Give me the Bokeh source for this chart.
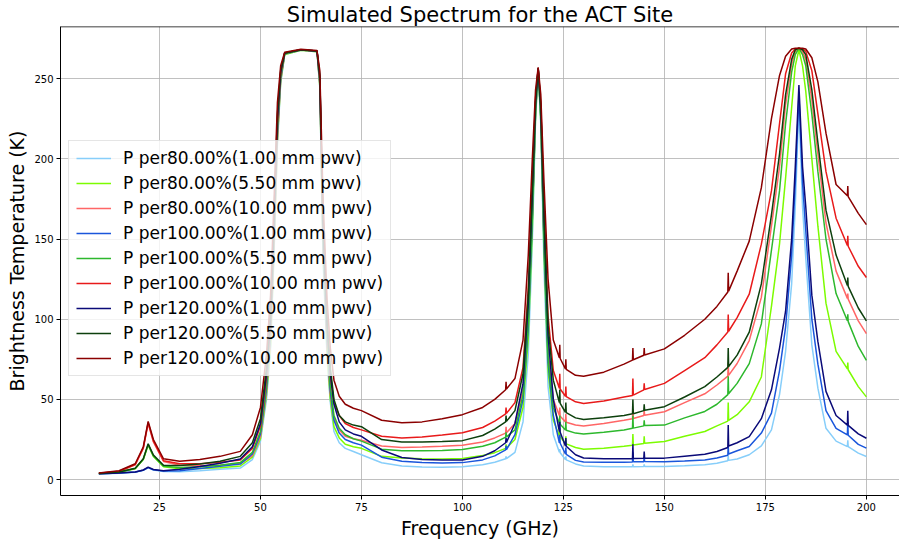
from bokeh.plotting import figure
from bokeh.models import Range1d, Legend, LegendItem, FixedTicker, Span
from bokeh.embed import file_html
from bokeh.resources import INLINE

freq = [10, 15, 19, 21, 22.2, 23.5, 26, 30, 35, 40, 45, 48, 50, 51.5, 52.5, 53.3, 54.2, 55, 56, 60,
        64, 64.7, 65.5, 66.5, 67.3, 68.2, 69.5, 71, 73, 75, 80, 85, 90, 95, 100, 105, 108, 110.7, 110.8, 110.9,
        113, 115, 116.3, 117.3, 118.1, 118.75, 119.4, 120.2, 121.2, 122.5, 124.0, 124.1, 124.2, 125.5, 125.6, 125.7,
        128, 130, 135, 140, 142.1, 142.2, 142.3, 144.9, 145.0, 145.1, 150, 155, 160, 163, 165.7, 165.8, 165.9,
        168, 171, 174, 176.5, 178.5, 180, 181.5, 182.4, 183.3, 184.2, 185, 186.5, 188, 190, 192.5,
        195.3, 195.4, 195.5, 198, 200]

t_p80_w1 = [3.5, 4.0, 4.6, 5.8, 7.3, 6.0, 5.1, 4.9, 5.6, 6.5, 7.2, 12.5, 24, 50, 80, 135, 208, 247, 265, 267.7,
            266.8, 244, 135, 75, 48, 30, 23, 19.5, 17.5, 15.5, 10.5, 8.5, 7.8, 7.7, 8.0, 9.3, 10.8, 13, 14.5, 13.1,
            17, 36, 78, 148, 224, 255.5, 221, 132, 58, 28, 17, 19, 16.8, 12.5, 14.5, 12.3,
            9.8, 8.5, 8.0, 8.0, 8.1, 9.5, 8.1, 8.2, 9.5, 8.2, 8.2, 8.6, 9.3, 10.2, 11.8, 15, 12,
            12.9, 15.5, 21, 31, 53, 80, 122, 170, 234, 170, 138, 84, 57, 32, 24,
            20.6, 24.5, 20.5, 16.5, 14.4]
t_p80_w55 = [3.7, 4.6, 6.8, 12.5, 21.5, 14.5, 8.0, 6.8, 6.9, 7.4, 8.5, 14, 25.5, 53, 84, 138, 211, 248, 265, 267.7,
             266.8, 245, 140, 78, 50, 33, 26, 22, 20.5, 19.5, 14.5, 13.5, 13, 12.8, 13.2, 15, 16.8, 19.5, 22, 19.7,
             25, 45, 88, 155, 226, 256, 223, 140, 68, 37, 27, 32, 26.7, 22.5, 27, 22.3,
             20, 19, 19.5, 20.8, 21.5, 28.5, 21.6, 22.5, 27, 22.7, 23.8, 27, 30, 33.5, 36.5, 48, 37,
             40.5, 48.5, 64, 108, 147, 188, 232, 258, 268, 258, 242, 200, 158, 110, 80,
             69, 73, 68.5, 58, 51.6]
t_p80_w10 = [3.9, 5.1, 9.2, 19.5, 35.0, 23.5, 11.3, 9.0, 8.7, 9.0, 10.0, 15, 27, 55, 87, 141, 213, 249, 265.5, 267.8,
             266.9, 246, 144, 82, 53, 38, 31, 27, 25.5, 24.5, 21, 20, 20.3, 20.8, 21.5, 23.5, 26, 29, 33, 29.2,
             35, 56, 100, 165, 230, 256, 228, 150, 80, 50, 40, 45, 39.5, 36, 41, 35.8,
             34, 33.5, 35, 37, 38, 44, 38.1, 40, 43, 40.2, 42.3, 48, 53.5, 59, 64.5, 73, 65,
             72.4, 86.7, 113.6, 158, 195, 234, 259, 267, 269, 267, 262, 237, 203, 160, 130,
             113, 116, 112.5, 99, 91]
t_p100_w1 = [3.6, 4.1, 4.7, 5.9, 7.5, 6.1, 5.3, 5.6, 6.9, 8.4, 9.7, 16, 28.5, 57, 90, 145, 216, 250, 265.5, 267.9,
             267, 247, 147, 85, 55, 37, 29, 25, 23, 21.5, 14, 11.5, 10.6, 10.4, 10.6, 12.3, 14.8, 18.5, 21, 18.7,
             28, 50, 95, 162, 229, 256, 226, 146, 73, 40, 23, 28, 22.7, 16, 20, 15.8,
             12, 11, 10.8, 10.9, 11, 17, 11.1, 11.2, 14, 11.3, 11.2, 11.6, 12.3, 13.5, 15.2, 21, 16,
             18, 20.6, 29, 41.5, 68, 95, 140, 185, 240, 185, 155, 100, 72, 43, 32,
             27.9, 36, 27.7, 22, 19.6]
t_p100_w55 = [3.8, 4.7, 6.9, 12.7, 21.8, 14.8, 8.4, 7.6, 8.0, 9.0, 10.6, 17, 30, 59, 92, 147, 218, 251, 265.5, 267.9,
              267, 248, 150, 88, 58, 40, 32, 28, 25.5, 24, 19, 18, 18, 18.2, 18.8, 20.8, 23, 26.5, 29.5, 26.7,
              31, 53, 98, 163, 229, 256.5, 226, 148, 76, 45, 35, 40, 34.5, 31, 36, 30.8,
              29, 28.5, 29.5, 31, 32, 40, 32.1, 33.5, 37, 33.7, 34, 38.5, 42.5, 47, 53, 64.5, 53.5,
              60, 72.3, 97.1, 143, 180, 222, 254, 265, 269, 265, 258, 228, 192, 150, 116,
              99, 103, 98.5, 83, 74.4]
t_p100_w10 = [4.0, 5.2, 9.4, 19.8, 35.5, 24.0, 11.8, 9.9, 9.9, 10.8, 12.3, 19.5, 33.5, 64, 97, 152, 222, 253, 266, 268,
              267.2, 250, 157, 95, 65, 48, 40, 35, 32.5, 31, 27, 26, 26.5, 27.8, 29.2, 32.5, 36.5, 41, 45, 41.3,
              48, 70, 120, 185, 238, 256.5, 235, 170, 102, 68, 57, 66, 56.5, 52, 58, 51.8,
              48.5, 47.5, 49, 51.5, 52.5, 63, 52.7, 56, 60, 56.2, 60, 68, 76, 84, 92, 103, 92.5,
              101, 115.6, 146.8, 180, 222, 253, 266, 268.5, 269, 268.5, 267, 255, 228, 192, 163,
              146, 152, 145.5, 133, 126]
t_p120_w1 = [3.7, 4.2, 4.8, 6.0, 7.8, 6.3, 5.6, 6.5, 8.2, 10.2, 12.8, 20.5, 35, 66, 100, 155, 225, 254, 266, 268,
             267.2, 251, 158, 96, 66, 47, 36, 31, 28.5, 27, 18.5, 13.8, 12.5, 12.2, 12.3, 14.5, 18, 23, 26, 23.2,
             35, 60, 110, 178, 235, 256.5, 232, 163, 90, 50, 30, 36, 29.5, 21, 26, 20.8,
             15.5, 13.5, 13, 13, 13, 22, 13.1, 13.3, 17.5, 13.4, 13.4, 14.6, 15.8, 17.5, 20, 34, 21,
             23, 26.8, 38, 56, 82, 105, 150, 195, 246, 195, 170, 115, 86, 55, 40,
             34, 43, 33.8, 28.5, 25.8]
t_p120_w55 = [3.9, 4.8, 7.1, 13.0, 22.3, 15.3, 9.0, 8.8, 9.8, 11.4, 14.5, 23, 38, 70, 105, 160, 228, 255, 266, 268,
              267.3, 252, 163, 100, 70, 50, 40, 36, 34, 33, 25, 23.5, 23.5, 23.8, 24.3, 27.5, 31.5, 36, 40, 36.3,
              43, 66, 115, 182, 236, 256.5, 233, 167, 96, 62, 48, 56, 47.5, 42, 48, 41.8,
              38.5, 37.5, 38.5, 40, 41, 50, 41.1, 43, 47, 43.2, 45.5, 51.5, 58, 64, 70, 82, 70.5,
              77.6, 91.9, 122, 165, 203, 240, 262, 268, 269, 268, 265, 243, 210, 168, 140,
              121, 126, 120.5, 107, 99]
t_p120_w10 = [4.2, 5.5, 9.9, 20.5, 36.3, 25.0, 13.0, 11.4, 12.6, 14.5, 17.6, 28, 45, 78, 115, 170, 235, 258, 266.5, 268.3,
              267.5, 255, 175, 112, 82, 62, 52, 47, 44.5, 43, 37, 35.5, 36, 38, 40.5, 45, 50, 56, 61, 56.5,
              63, 87, 140, 200, 243, 257, 240, 185, 125, 87, 76, 84, 75.5, 69, 75, 68.8,
              65, 64.5, 67, 72, 74.5, 82, 74.7, 77.5, 82, 77.7, 81.5, 90, 100, 108, 117, 129, 117.5,
              130, 148.7, 182, 225, 252, 264, 268.5, 269, 269, 269, 268.5, 263, 248, 216, 184,
              177, 183, 176.5, 166, 159]

labels = ["P per80.00%(1.00 mm pwv)", "P per80.00%(5.50 mm pwv)", "P per80.00%(10.00 mm pwv)",
          "P per100.00%(1.00 mm pwv)", "P per100.00%(5.50 mm pwv)", "P per100.00%(10.00 mm pwv)",
          "P per120.00%(1.00 mm pwv)", "P per120.00%(5.50 mm pwv)", "P per120.00%(10.00 mm pwv)"]
series = [t_p80_w1, t_p80_w55, t_p80_w10, t_p100_w1, t_p100_w55, t_p100_w10, t_p120_w1, t_p120_w55, t_p120_w10]
colors = ["#87CEFA", "#7CFC00", "#FF6666", "#1A56DB", "#2DB82D", "#E81A1A", "#0A0A78", "#0D400D", "#8B0000"]

x_ticks = [25, 50, 75, 100, 125, 150, 175, 200]
y_ticks = [0, 50, 100, 150, 200, 250]

FONT = "DejaVu Sans"

p = figure(width=899, height=541, output_backend="svg", toolbar_location=None,
           x_range=Range1d(0.5, 208.2), y_range=Range1d(-9.9, 282.5),
           min_border_left=60, min_border_right=0, min_border_top=0, min_border_bottom=0)

p.title.text = "Simulated Spectrum for the ACT Site"
p.title.align = "center"
p.title.text_font = FONT
p.title.text_font_size = "21px"
p.title.text_font_style = "normal"
p.title.text_color = "black"
p.title.standoff = 0
p.title.offset = 0

items = []
for s, c, lab in zip(series, colors, labels):
    r = p.line(freq, s, line_color=c, line_width=1.5)
    items.append(LegendItem(label=lab, renderers=[r]))

p.outline_line_color = None
p.add_layout(Span(location=282.5, dimension="width", line_color="black", line_width=1.5))

xax = p.below[0]
yax = p.left[0]
for ax in (xax, yax):
    ax.major_label_text_font = FONT
    ax.major_label_text_font_size = "10px"
    ax.major_label_text_color = "black"
    ax.axis_label_text_font = FONT
    ax.axis_label_text_font_size = "19px"
    ax.axis_label_text_font_style = "normal"
    ax.axis_label_text_color = "black"
    ax.minor_tick_line_color = None
    ax.major_tick_in = 0
    ax.major_tick_out = 4
    ax.axis_line_color = "black"
    ax.major_label_standoff = 3
    ax.axis_label_standoff = 3
xax.ticker = FixedTicker(ticks=x_ticks)
yax.ticker = FixedTicker(ticks=y_ticks)
xax.axis_label = "Frequency (GHz)"
yax.axis_label = "Brightness Temperature (K)"

p.grid.grid_line_color = "#b0b0b0"
p.grid.grid_line_alpha = 0.8
p.grid.grid_line_width = 1

legend = Legend(items=items, location=(8, 119))
legend.label_text_font = FONT
legend.label_text_font_size = "17px"
legend.label_text_color = "black"
legend.glyph_width = 35
legend.glyph_height = 20
legend.label_height = 20
legend.spacing = 5
legend.padding = 7
legend.label_standoff = 12
legend.border_line_color = "#cccccc"
legend.background_fill_alpha = 0.8
p.add_layout(legend, "center")

open("out.html", "w").write(file_html(p, INLINE))
